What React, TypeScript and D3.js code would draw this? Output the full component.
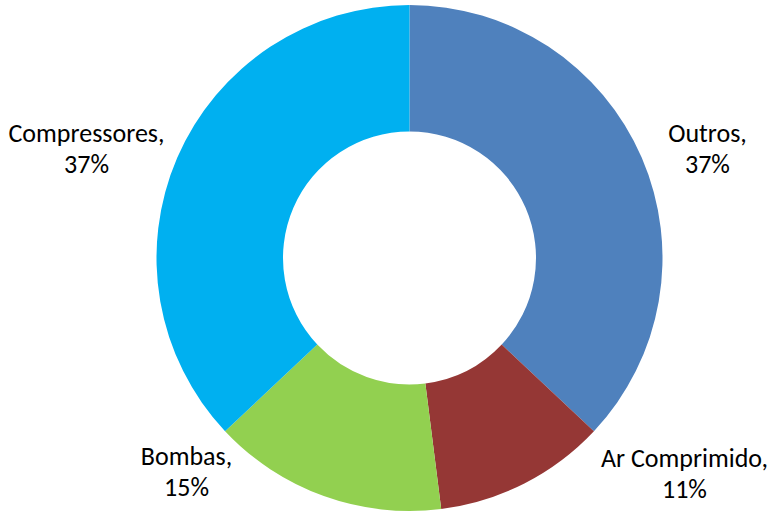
import * as d3 from 'd3';

const categories = ['Outros', 'Ar Comprimido', 'Bombas', 'Compressores'];
const shares = [37, 11, 15, 37];
const colours = ['#4F81BD', '#953735', '#92D050', '#00B0F0'];

// label anchors relative to the chart centre (Excel moves them off the slice middle)
const labelOffsets: [number, number][] = [
  [298, -116],
  [275, 209],
  [-223, 207],
  [-323, -116],
];

const width = 775;
const height = 513;
const cx = 409.5;
const cy = 258;
const outerRadius = 253;
const innerRadius = 126.5;

export default function App() {
  const pie = d3
    .pie<number>()
    .sort(null)
    .value((d) => d);
  const arcs = pie(shares);
  const arc = d3
    .arc<d3.PieArcDatum<number>>()
    .innerRadius(innerRadius)
    .outerRadius(outerRadius);
  const total = d3.sum(shares);

  return (
    <svg
      width={width}
      height={height}
      style={{ position: 'absolute', left: 0, top: 0, background: '#fff' }}
    >
      <g transform={`translate(${cx},${cy})`}>
        {arcs.map((a, i) => (
          <path key={categories[i]} d={arc(a) ?? ''} fill={colours[i]} />
        ))}
        {arcs.map((a, i) => {
          const [dx, dy] = labelOffsets[i];
          const pct = Math.round((a.data / total) * 100);
          return (
            <text
              key={`label-${categories[i]}`}
              x={dx}
              y={dy}
              textAnchor="middle"
              fontFamily="Carlito, Calibri, Lato, 'Open Sans', sans-serif"
              fontSize={26}
              fill="#000"
            >
              <tspan x={dx} dy={0}>{`${categories[i]},`}</tspan>
              <tspan x={dx} dy={31}>{`${pct}%`}</tspan>
            </text>
          );
        })}
      </g>
    </svg>
  );
}
